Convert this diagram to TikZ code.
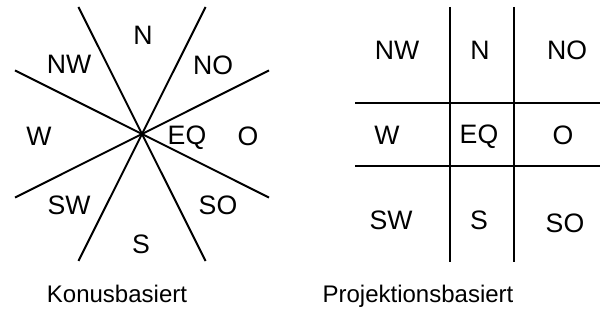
\documentclass[tikz,border=0pt]{standalone}
\usepackage{fontspec}
\setmainfont{Liberation Sans}
\usetikzlibrary{positioning, calc}

\begin{document}
\begin{tikzpicture}[x=0.75pt, y=-0.75pt,
  lab/.style = {inner sep=0pt, font=\fontsize{20}{23}\selectfont},
  titel/.style = {inner sep=0pt, anchor=base, font=\fontsize{18}{21}\selectfont},
  line/.style = {line width=1.5pt}]
\useasboundingbox (0,0) rectangle (600,320);
% Konus
\coordinate (c) at (142,134);
\foreach \a in {26.57, 63.43, 116.57, 153.43}
  \draw[line] ($(c)+(\a:142)$) -- ($(c)+(\a+180:142)$);
\node[lab] (kn) at (143,35) {N};
\node[lab] (knw) at (69,64) {NW};
\node[lab] (kno) at (213,65) {NO};
\node[lab] (kw) at (39,136) {W};
\node[lab] (keq) at (187,138) {EQ};
\node[lab] (ko) at (248,136) {O};
\node[lab] (ksw) at (69,205) {SW};
\node[lab] (kso) at (218,205) {SO};
\node[lab] (ks) at (141,244) {S};
\node[titel] (ktitel) at (117,303) {Konusbasiert};
% Projektion
\foreach \x in {450, 514}
  \draw[line] (\x,7) -- (\x,262);
\foreach \y in {103, 166}
  \draw[line] (355,\y) -- (600,\y);
\node[lab] (pnw) at (397,50) {NW};
\node[lab] (pn) at (480,50) {N};
\node[lab] (pno) at (567,50) {NO};
\node[lab] (pw) at (387,135) {W};
\node[lab] (peq) at (479,137) {EQ};
\node[lab] (po) at (563,135) {O};
\node[lab] (psw) at (391,220) {SW};
\node[lab] (ps) at (479,220) {S};
\node[lab] (pso) at (565,223) {SO};
\node[titel] (ptitel) at (418,303) {Projektionsbasiert};
\end{tikzpicture}
\end{document}
